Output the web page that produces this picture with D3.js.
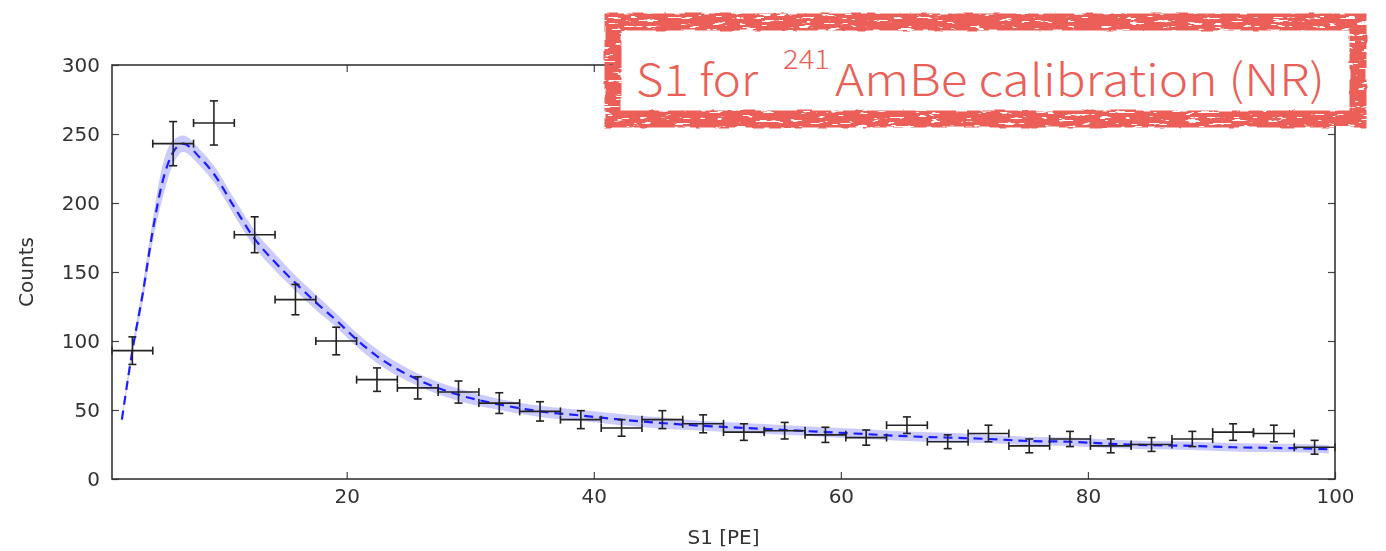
<!DOCTYPE html>
<html lang="en">
<head>
<meta charset="UTF-8">
<title>S1 for AmBe calibration</title>
<script src="https://cdn.jsdelivr.net/npm/d3@7"></script>
<style>
	body {
		margin: 0;
		background: #fff;
	}

	svg text {
		font-family: "DejaVu Sans", sans-serif;
	}

	.axis text {
		font-size: 20px;
		fill: #333;
	}

	.axis path {
		display: none;
	}

	.axis line {
		stroke: #444;
		stroke-width: 1.2;
	}
</style>
</head>
<body>
<div id="viz"></div>

<script>
// histogram bins (S1 in PE) and counts
const binCenters = [2.65, 5.95, 9.25, 12.55, 15.85, 19.15, 22.45, 25.75, 29.05, 32.35,
	35.65, 38.95, 42.25, 45.55, 48.85, 52.15, 55.45, 58.75, 62.05, 65.35,
	68.65, 71.95, 75.25, 78.55, 81.85, 85.15, 88.45, 91.75, 95.05, 98.35];
const binHalfWidth = 1.65;
const counts = [93, 243, 258, 177, 130, 100, 72, 66, 63, 55,
	49, 43, 37, 43, 40, 34, 35, 32, 30, 39,
	27, 33, 24, 29, 24, 25, 29, 34, 33, 23];
const countErrs = [10, 16, 16, 13, 11, 10, 8.5, 8, 8, 7.5,
	7, 6.5, 6, 6.5, 6.5, 6, 6, 5.5, 5.5, 6,
	5, 6, 5, 5.5, 5, 5, 5.5, 6, 6, 5];

// fitted curve with its band
const fitX = [1.8, 2.65, 3.5, 4.3, 5.05, 5.9, 6.75, 8.1, 9.25, 10.9,
	12.55, 14.2, 15.85, 17.5, 19.15, 20.8, 22.45, 25.75, 29.05, 32.35, 35.65,
	38.95, 42.25, 45.55, 48.85, 52.15, 55.45, 58.75, 62.05, 65.35, 68.65,
	71.95, 75.25, 78.55, 81.85, 85.15, 88.45, 91.75, 95.05, 98.35, 99.5];
const fitY = [43, 93, 135, 180, 214, 236, 243, 233, 221, 197,
	174, 157, 142, 128, 115, 101, 89, 72, 61, 54, 49,
	46, 43, 40.5, 38.5, 37, 35.5, 34, 32.5, 31, 30,
	29, 27.5, 27, 25.5, 24.5, 24, 23, 22.5, 22, 21.5];
const fitBand = [2, 4, 6, 8, 12, 9, 6, 6, 6, 6,
	6, 6, 5.5, 5.5, 5, 5, 5, 4.5, 4.5, 4, 4,
	4, 4, 4, 3.5, 3.5, 3.5, 3.5, 3.5, 3.5, 3.5,
	3, 3, 3, 3, 3, 3, 3, 3, 3, 3];

const xTicks = [20, 40, 60, 80, 100];
const yTicks = [0, 50, 100, 150, 200, 250, 300];

const W = 1386, H = 551;
const margin = {top: 65, left: 112, right: 51, bottom: 72};
const width = W - margin.left - margin.right;
const height = H - margin.top - margin.bottom;

const svg = d3.select('#viz').append('svg')
	.attr('width', W)
	.attr('height', H);

const defs = svg.append('defs');
defs.append('filter').attr('id', 'soft')
	.append('feGaussianBlur').attr('stdDeviation', 0.55);

// rough stamp look for the title frame
const grunge = defs.append('filter').attr('id', 'grunge')
	.attr('filterUnits', 'userSpaceOnUse')
	.attr('x', 590).attr('y', 0).attr('width', 796).attr('height', 145);
grunge.append('feTurbulence').attr('type', 'fractalNoise')
	.attr('baseFrequency', '0.06 0.06').attr('numOctaves', 2).attr('seed', 3).attr('result', 'noise');
grunge.append('feDisplacementMap').attr('in', 'SourceGraphic').attr('in2', 'noise')
	.attr('scale', 4).attr('xChannelSelector', 'R').attr('yChannelSelector', 'G').attr('result', 'disp');
grunge.append('feTurbulence').attr('type', 'fractalNoise')
	.attr('baseFrequency', '0.07 0.35').attr('numOctaves', 3).attr('seed', 11).attr('result', 'n2');
grunge.append('feColorMatrix').attr('in', 'n2').attr('type', 'matrix')
	.attr('values', '0 0 0 0 0  0 0 0 0 0  0 0 0 0 0  -20 0 0 0 14').attr('result', 'mask');
grunge.append('feComposite').attr('in', 'disp').attr('in2', 'mask').attr('operator', 'in');

const x = d3.scaleLinear().domain([1, 100]).range([0, width]);
const y = d3.scaleLinear().domain([0, 300]).range([height, 0]);

const g = svg.append('g')
	.attr('transform', 'translate(' + margin.left + ',' + margin.top + ')')
	.attr('filter', 'url(#soft)');

// fit band and dashed fit line
const fit = fitX.map((d, i) => ({x: d, y: fitY[i], e: fitBand[i]}));

g.append('path')
	.datum(fit)
	.attr('fill', '#4040ff')
	.attr('fill-opacity', 0.28)
	.attr('d', d3.area()
		.curve(d3.curveMonotoneX)
		.x((d) => x(d.x))
		.y0((d) => y(d.y - d.e))
		.y1((d) => y(d.y + d.e)));

g.append('path')
	.datum(fit)
	.attr('fill', 'none')
	.attr('stroke', '#1f1fff')
	.attr('stroke-width', 2.2)
	.attr('stroke-dasharray', '9,6')
	.attr('d', d3.line()
		.curve(d3.curveMonotoneX)
		.x((d) => x(d.x))
		.y((d) => y(d.y)));

// error bars
const pts = binCenters.map((d, i) => ({x: d, y: counts[i], e: countErrs[i]}));
const cap = 4;
const bars = g.selectAll('.pt').data(pts).enter().append('g')
	.attr('class', 'pt')
	.attr('stroke', '#222')
	.attr('stroke-width', 1.6);

bars.append('line')
	.attr('x1', (d) => x(d.x - binHalfWidth)).attr('x2', (d) => x(d.x + binHalfWidth))
	.attr('y1', (d) => y(d.y)).attr('y2', (d) => y(d.y));
bars.append('line')
	.attr('x1', (d) => x(d.x)).attr('x2', (d) => x(d.x))
	.attr('y1', (d) => y(d.y - d.e)).attr('y2', (d) => y(d.y + d.e));
bars.append('line')
	.attr('x1', (d) => x(d.x) - cap).attr('x2', (d) => x(d.x) + cap)
	.attr('y1', (d) => y(d.y - d.e)).attr('y2', (d) => y(d.y - d.e));
bars.append('line')
	.attr('x1', (d) => x(d.x) - cap).attr('x2', (d) => x(d.x) + cap)
	.attr('y1', (d) => y(d.y + d.e)).attr('y2', (d) => y(d.y + d.e));
bars.append('line')
	.attr('x1', (d) => x(d.x - binHalfWidth)).attr('x2', (d) => x(d.x - binHalfWidth))
	.attr('y1', (d) => y(d.y) - cap).attr('y2', (d) => y(d.y) + cap);
bars.append('line')
	.attr('x1', (d) => x(d.x + binHalfWidth)).attr('x2', (d) => x(d.x + binHalfWidth))
	.attr('y1', (d) => y(d.y) - cap).attr('y2', (d) => y(d.y) + cap);

// axes, ticks pointing inward on all four sides
g.append('g').attr('class', 'axis')
	.attr('transform', 'translate(0,' + height + ')')
	.call(d3.axisBottom(x).tickValues(xTicks).tickSize(-7).tickPadding(10));
g.append('g').attr('class', 'axis')
	.call(d3.axisTop(x).tickValues(xTicks).tickSize(-7).tickFormat(''));
g.append('g').attr('class', 'axis')
	.call(d3.axisLeft(y).tickValues(yTicks).tickSize(-7).tickPadding(12));
g.append('g').attr('class', 'axis')
	.attr('transform', 'translate(' + width + ',0)')
	.call(d3.axisRight(y).tickValues(yTicks).tickSize(-7).tickFormat(''));

g.append('rect')
	.attr('width', width)
	.attr('height', height)
	.attr('fill', 'none')
	.attr('stroke', '#333')
	.attr('stroke-width', 1.6);

g.append('text')
	.attr('x', width / 2)
	.attr('y', height + 65)
	.attr('text-anchor', 'middle')
	.attr('font-size', 20)
	.attr('fill', '#333')
	.text('S1 [PE]');

g.append('text')
	.attr('transform', 'translate(' + (-79) + ',' + (height / 2) + ') rotate(-90)')
	.attr('text-anchor', 'middle')
	.attr('font-size', 20)
	.attr('fill', '#333')
	.text('Counts');

// title stamp
const red = '#eb5f59';
svg.append('rect')
	.attr('x', 613).attr('y', 22)
	.attr('width', 745).attr('height', 97)
	.attr('fill', '#fff');
svg.append('rect')
	.attr('x', 613).attr('y', 22)
	.attr('width', 745).attr('height', 97)
	.attr('fill', 'none')
	.attr('stroke', red)
	.attr('stroke-width', 17)
	.attr('filter', 'url(#grunge)');

const title = svg.append('text')
	.attr('y', 96)
	.attr('fill', red)
	.style('font-family', '"Noto Sans CJK JP", "Noto Sans", sans-serif')
	.style('font-weight', 300)
	.attr('font-size', 44);
title.append('tspan').attr('x', 636)
	.attr('textLength', 122).attr('lengthAdjust', 'spacingAndGlyphs')
	.text('S1 for');
title.append('tspan').attr('x', 783).attr('y', 69)
	.attr('font-size', 27)
	.attr('textLength', 47).attr('lengthAdjust', 'spacingAndGlyphs')
	.text('241');
title.append('tspan').attr('x', 835).attr('y', 96)
	.attr('textLength', 490).attr('lengthAdjust', 'spacingAndGlyphs')
	.text('AmBe calibration (NR)');
</script>
</body>
</html>
